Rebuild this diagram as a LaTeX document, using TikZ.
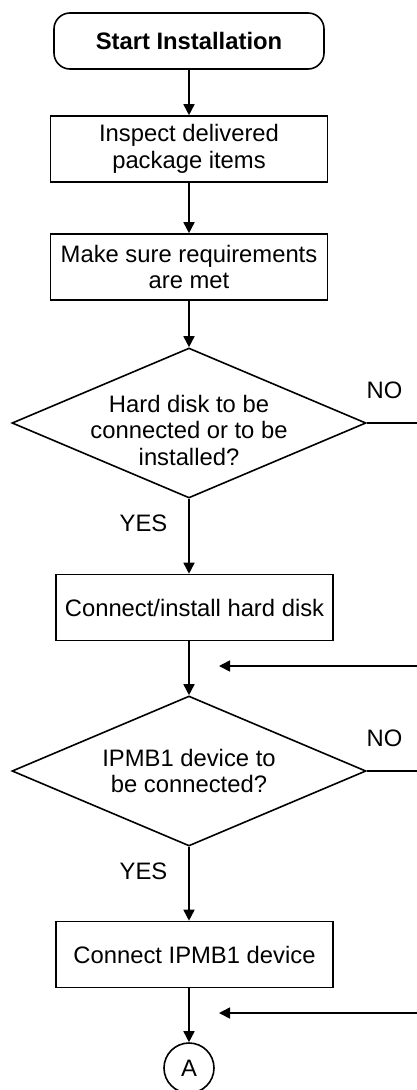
\documentclass[tikz,border=0pt]{standalone}
\usepackage{fontspec}
\setmainfont{Liberation Sans}
\usetikzlibrary{arrows.meta,shapes.geometric}
\begin{document}
\begin{tikzpicture}[x=1pt,y=-1pt,
  every node/.style={font=\fontsize{23.8}{26.5}\selectfont},
  line/.style={line width=1.6pt},
  flow/.style={line, -{Triangle[length=11pt,width=11pt]}},
  terminal/.style={draw, line width=1.6pt, rounded corners=16pt, minimum width=270pt, minimum height=56pt, inner sep=0pt},
  procbox/.style={draw, line width=1.6pt, minimum width=277pt, minimum height=66pt, inner sep=0pt, align=center},
  decision/.style={draw, diamond, line width=1.6pt, minimum width=354pt, minimum height=150pt, inner sep=0pt},
  connector/.style={draw, circle, line width=1.6pt, minimum size=50pt, inner sep=0pt},
  caption/.style={align=center, inner sep=0pt}]
\useasboundingbox (0,0) rectangle (417,1090);

\node[terminal] (start) at (189,41) {\bfseries Start Installation};
\node[procbox] (inspect) at (189,149) {Inspect delivered\\package items};
\node[procbox] (reqs) at (189,267) {Make sure requirements\\are met};

\node[decision] (hdq) at (189,423) {};
\node[caption] (hdqtext) at (189,430) {Hard disk to be\\connected or to be\\installed?};
\node[caption] (hdno) at (384.5,390) {NO};
\node[caption] (hdyes) at (143.5,523) {YES};
\node[procbox] (hd) at (194.5,607.5) {Connect/install hard disk};

\node[decision] (ipq) at (189,771) {};
\node[caption] (ipqtext) at (189,771) {IPMB1 device to\\be connected?};
\node[caption] (ipno) at (384.5,738) {NO};
\node[caption] (ipyes) at (143.5,871) {YES};
\node[procbox] (ip) at (194.5,954.5) {Connect IPMB1 device};

\node[connector] (conA) at (189,1068) {A};

% free ends of the branches leaving the sheet
\coordinate (hdout) at (417,423);
\coordinate (hdback) at (417,666);
\coordinate (hdjoin) at (219,666);
\coordinate (ipout) at (417,771);
\coordinate (ipback) at (417,1013);
\coordinate (ipjoin) at (219,1013);

\draw[flow] (start) -- (inspect);
\draw[flow] (inspect) -- (reqs);
\draw[flow] (reqs.south -| hdq.north) -- (hdq.north);
\draw[flow] (hdq.south) -- (hdq.south |- hd.north);
\draw[flow] (hd.south -| ipq.north) -- (ipq.north);
\draw[flow] (ipq.south) -- (ipq.south |- ip.north);
\draw[flow] (ip.south -| conA.north) -- (conA.north);

\draw[line] (hdq.east) -- (hdout);
\draw[line] (ipq.east) -- (ipout);
\draw[flow] (hdback) -- (hdjoin);
\draw[flow] (ipback) -- (ipjoin);
\end{tikzpicture}
\end{document}
